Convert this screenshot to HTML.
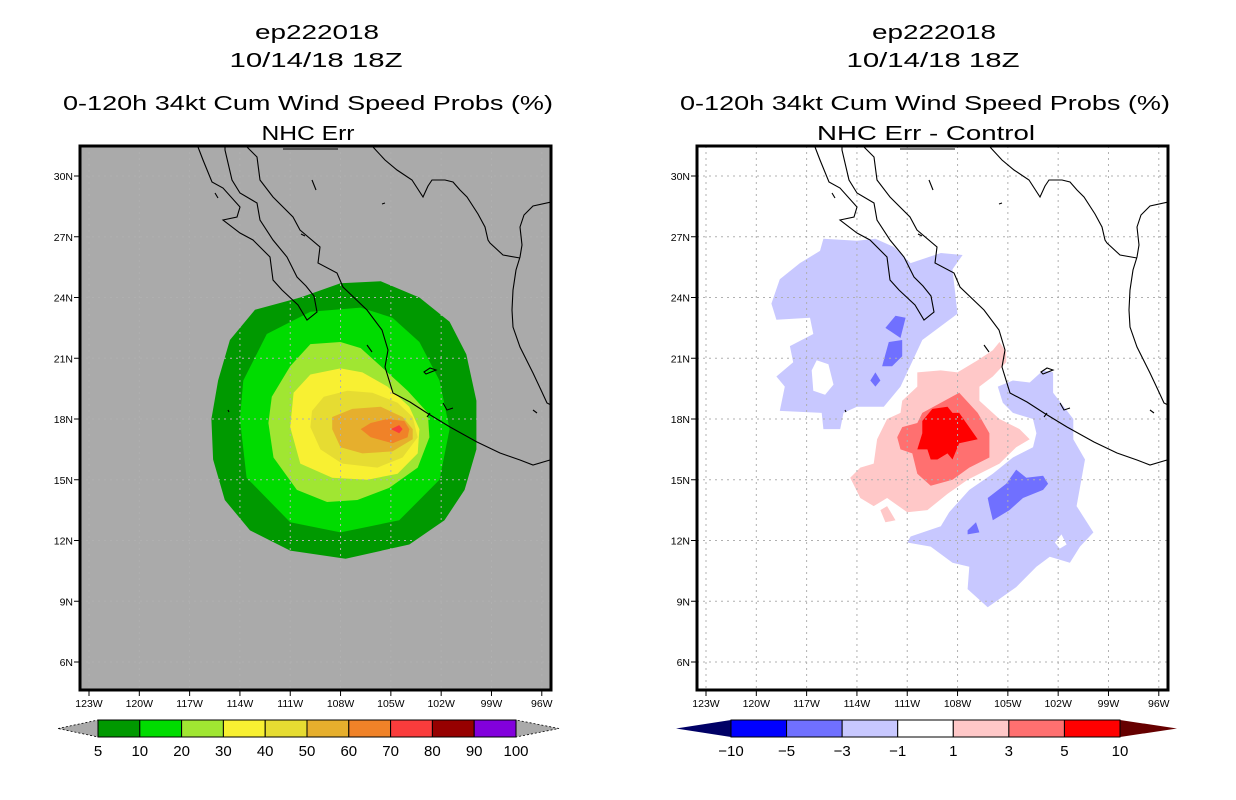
<!DOCTYPE html>
<html><head><meta charset="utf-8">
<style>
html,body{margin:0;padding:0;background:#fff;}
svg{display:block;font-family:"Liberation Sans",sans-serif;}
</style></head>
<body>
<svg id="fig" width="1236" height="800" viewBox="0 0 1236 800" xmlns="http://www.w3.org/2000/svg">
  <rect width="1236" height="800" fill="#fff"/>
  <g id="titles-left" font-size="20" text-anchor="middle" fill="#000">
    <text x="317" y="39" textLength="124" lengthAdjust="spacingAndGlyphs">ep222018</text>
    <text x="316" y="67" textLength="173" lengthAdjust="spacingAndGlyphs">10/14/18 18Z</text>
    <text x="308" y="110" textLength="490" lengthAdjust="spacingAndGlyphs">0-120h 34kt Cum Wind Speed Probs (%)</text>
    <text x="308" y="140" textLength="93" lengthAdjust="spacingAndGlyphs">NHC Err</text>
  </g>
  <g id="titles-right" font-size="20" text-anchor="middle" fill="#000">
    <text x="934" y="39" textLength="124" lengthAdjust="spacingAndGlyphs">ep222018</text>
    <text x="933" y="67" textLength="173" lengthAdjust="spacingAndGlyphs">10/14/18 18Z</text>
    <text x="925" y="110" textLength="490" lengthAdjust="spacingAndGlyphs">0-120h 34kt Cum Wind Speed Probs (%)</text>
    <text x="926" y="140" textLength="218" lengthAdjust="spacingAndGlyphs">NHC Err - Control</text>
  </g>
  <g id="panelL"></g>
  <g id="panelR"></g>
  <g id="cbL"></g>
  <g id="cbR"></g>
</svg>
<script>
// ---------- data ----------
const lonTicks = [123,120,117,114,111,108,105,102,99,96];
const latTicks = [30,27,24,21,18,15,12,9,6];
const probLevels = [5,10,20,30,40,50,60,70,80,90,100];
const probColors = ["#009900","#00dc00","#a0e632","#f8f032","#e6dc32","#e6af2d","#f08228","#fa3c3c","#960000","#8200dc"];
const diffLevels = [-10,-5,-3,-1,1,3,5,10];
const diffColors = ["#0000ff","#7070ff","#c8c8ff","#ffffff","#ffc8c8","#ff7070","#ff0000"];
const prob5 = [[110.4,24.0],[108.0,24.7],[105.6,24.8],[103.3,24.0],[101.5,22.8],[100.5,21.2],[99.9,18.9],[99.9,16.5],[100.6,14.5],[101.8,13.0],[103.9,11.8],[107.7,11.1],[111.0,11.5],[113.4,12.5],[114.9,14.0],[115.6,16.0],[115.7,18.0],[115.3,19.9],[114.6,21.9],[113.1,23.4]];
const prob10 = [[106.8,23.5],[104.9,23.0],[103.3,21.8],[102.1,19.9],[101.5,17.5],[102.1,15.0],[104.5,13.0],[108.0,12.4],[111.0,12.9],[113.6,15.1],[114.0,18.0],[113.8,19.9],[112.4,22.2],[109.8,23.3]];
const prob20 = [[108.0,21.8],[109.8,21.7],[111.0,20.6],[112.1,19.1],[112.3,17.8],[112.0,16.1],[110.6,14.5],[108.8,13.9],[107.0,14.0],[105.1,14.6],[103.4,15.6],[102.7,17.1],[102.8,18.3],[104.0,19.4],[105.6,20.6],[106.8,21.5]];
const prob30 = [[108.0,20.5],[109.8,20.2],[110.8,19.3],[111.0,17.6],[110.4,15.8],[108.5,15.1],[106.4,15.0],[104.6,15.3],[103.4,16.3],[103.3,17.5],[103.9,18.6],[105.2,19.6],[106.7,20.3]];
const prob40 = [[107.6,19.4],[109.0,19.1],[109.7,18.4],[109.8,17.6],[109.2,16.5],[107.9,15.8],[105.8,15.6],[104.3,16.1],[103.4,17.1],[103.7,18.1],[104.6,18.8],[106.1,19.3]];
const prob50 = [[108.5,18.1],[108.5,17.5],[108.0,16.6],[106.7,16.3],[104.9,16.4],[103.7,17.0],[103.7,17.5],[104.3,18.1],[105.6,18.6],[107.3,18.5]];
const prob60 = [[106.8,17.5],[106.2,17.1],[104.9,16.8],[104.0,17.1],[103.9,17.5],[104.2,17.9],[105.2,18.0],[106.2,17.8]];
const prob70 = [[105.0,17.5],[104.5,17.7],[104.3,17.5],[104.5,17.3]];
const diffNeg1NW = [[116.0,26.9],[114.0,26.8],[112.9,26.9],[111.8,26.5],[110.8,25.7],[109.0,26.2],[107.7,26.1],[108.3,25.4],[108.0,23.2],[110.1,21.9],[111.4,19.6],[112.4,18.6],[114.0,18.6],[114.8,18.3],[115.0,17.5],[116.0,17.5],[116.1,18.3],[118.6,18.4],[118.3,19.6],[118.8,20.1],[117.8,20.8],[118.0,21.6],[116.6,22.2],[116.8,23.0],[118.8,22.9],[119.1,23.7],[118.6,24.9],[117.4,25.7],[116.2,26.3]];
const diffHoleNW = [[116.4,20.9],[115.7,20.7],[115.4,19.7],[115.9,19.2],[116.6,19.4],[116.7,20.4]];
const diffNeg3NWa = [[112.3,22.5],[111.7,23.1],[111.1,23.0],[111.4,22.0]];
const diffNeg3NWb = [[112.5,20.6],[112.1,21.8],[111.3,21.9],[111.3,21.1],[111.9,20.6]];
const diffNeg3NWc = [[113.2,19.9],[112.9,20.3],[112.6,19.9],[112.9,19.6]];
const diffNeg1SE = [[105.6,19.6],[104.7,19.9],[103.7,19.8],[102.9,20.4],[102.3,20.3],[102.3,19.3],[101.1,18.0],[101.1,17.0],[100.4,16.0],[100.9,13.7],[99.9,12.4],[100.7,11.7],[101.3,10.9],[102.5,11.2],[103.3,10.7],[104.5,9.7],[106.2,8.7],[107.4,9.6],[107.3,10.7],[108.3,10.9],[109.6,11.7],[111.0,11.9],[110.8,12.2],[109.0,12.7],[108.5,13.4],[107.3,14.5],[105.9,15.3],[104.7,16.1],[103.5,16.6],[103.3,17.3],[103.5,18.0],[104.7,18.3],[105.3,18.8]];
const diffHoleSE = [[102.2,11.9],[101.8,12.3],[101.5,11.8],[101.9,11.6]];
const diffNeg3SE = [[106.2,14.1],[105.1,14.8],[104.5,15.5],[103.9,15.1],[102.9,15.2],[102.6,14.8],[102.9,14.5],[104.1,14.1],[104.9,13.5],[105.9,13.0],[106.1,13.7]];
const diffNeg3SEb = [[107.4,12.5],[106.9,12.9],[106.7,12.4],[107.4,12.3]];
const diffPos1 = [[110.4,20.3],[109.0,20.4],[108.0,20.3],[106.8,20.9],[105.9,21.4],[105.5,21.8],[105.1,21.3],[105.1,20.8],[105.9,20.1],[106.7,19.6],[106.7,18.9],[105.5,18.0],[104.3,17.5],[103.7,17.0],[104.5,16.6],[105.5,15.8],[107.4,15.0],[108.6,14.3],[109.8,13.5],[111.0,13.4],[112.2,14.1],[113.0,13.7],[113.8,14.1],[114.4,15.1],[113.8,15.6],[113.0,15.8],[112.8,17.0],[112.2,18.0],[111.4,18.3],[111.3,18.9],[110.4,19.6]];
const diffPos1b = [[112.6,13.5],[112.2,13.7],[111.7,13.0],[112.3,12.9]];
const diffPos3 = [[110.1,18.3],[107.9,19.3],[106.8,18.3],[106.1,17.3],[106.1,16.1],[107.3,15.6],[108.3,15.0],[109.6,14.7],[110.4,15.3],[110.7,16.3],[111.4,16.5],[111.6,17.1],[111.3,17.6],[110.4,17.8]];
const diffPos5 = [[109.5,18.5],[108.6,18.6],[108.3,18.3],[107.9,18.3],[106.8,17.0],[107.9,16.8],[108.3,16.0],[108.6,16.3],[109.2,16.0],[109.6,16.0],[109.8,16.5],[110.4,16.5],[110.1,17.3],[110.1,17.9]];

// ---------- helpers ----------
const NS = "http://www.w3.org/2000/svg";
function mk(tag, attrs, parent){ const e=document.createElementNS(NS,tag); for(const k in attrs) e.setAttribute(k,attrs[k]); if(parent) parent.appendChild(e); return e; }
function xScale(lon, off){ return off + 89 + (123-lon)*16.77; }
function yScale(lat){ return 176 + (30-lat)*20.25; }
function poly(parent, pts, off, fill, name){
  const d = pts.map(p=>xScale(p[0],off).toFixed(1)+","+yScale(p[1]).toFixed(1)).join(" ");
  const e = mk("polygon",{points:d, fill:fill}, parent);
  
  
  return e;
}
const coastPaths = [
 "M198,147 L203,160 L212,182 L223,188 L240,207 L237,217 L223,220 L240,233 L253,240 L270,257 L273,280 L282,290 L298,305 L307,320 L317,312 L314,296 L306,286 L297,277 L287,257 L273,240 L260,220 L257,203 L240,193 L232,180 L225,150 L225,146",
 "M247,147 L257,157 L260,180 L273,197 L293,217 L300,230 L320,247 L318,263 L337,273 L343,287 L367,310 L382,330 L388,350 L385,367 L393,393 L410,402 L427,413 L450,427 L477,442 L500,453 L520,460 L533,465 L550,460",
 "M551,202 L533,206 L524,215 L520,227 L522,245 L520,257 L516,270 L513,290 L512,310 L513,327 L520,347 L533,373 L541,390 L547,403 L551,405",
 "M373,147 L385,160 L397,170 L412,180 L423,197 L428,186 L432,180 L445,180 L453,182 L460,190 L467,197 L478,214 L485,227 L488,240 L490,243 L503,255 L520,258",
 "M283,149 L338,149",
 "M215,193 L218,198 M367,345 L372,352 M424,372 L430,368 L436,370 L426,374 Z M443,403 L447,410 L453,408 M301,234 L305,236 M312,180 L316,190 M427,417 L430,413 M533,410 L537,413 M228,410 L229,412 M382,204 L385,203"
];
function drawPanel(g, off, bg, layers){
  const clipId = "clip"+off;
  const cp = mk("clipPath",{id:clipId}, g);
  mk("rect",{x:80+off,y:146,width:471,height:544}, cp);
  const bgr = mk("rect",{x:80+off,y:146,width:471,height:544,fill:bg}, g);
  
  
  const content = mk("g",{"clip-path":"url(#"+clipId+")"}, g);
  layers(content);
  const grid = mk("g",{stroke:"#b0b0b0","stroke-width":1,"stroke-dasharray":"2,4"}, content);
  
  
  lonTicks.forEach(l=>{ const x=xScale(l,off); mk("line",{x1:x,y1:146,x2:x,y2:690}, grid); });
  latTicks.forEach(l=>{ const y=yScale(l); mk("line",{x1:80+off,y1:y,x2:551+off,y2:y}, grid); });
  const coast = mk("g",{fill:"none",stroke:"#000","stroke-width":1.1,transform:"translate("+off+",0)"}, content);
  
  
  coastPaths.forEach(d=>mk("path",{d:d}, coast));
  const fr = mk("rect",{x:80+off,y:146,width:471,height:544,fill:"none",stroke:"#000","stroke-width":3}, g);
  
  
  const ax = mk("g",{"font-size":10.5,fill:"#000"}, g);
  
  
  latTicks.forEach(l=>{
    const y=yScale(l);
    mk("line",{x1:74+off,y1:y,x2:79+off,y2:y,stroke:"#000","stroke-width":1}, ax);
    const t = mk("text",{x:73+off,y:y+4,"text-anchor":"end"}, ax);
    t.textContent = l+"N";
    
    
  });
  lonTicks.forEach(l=>{
    const x=xScale(l,off);
    mk("line",{x1:x,y1:691,x2:x,y2:696,stroke:"#000","stroke-width":1}, ax);
    const t = mk("text",{x:x,y:707,"text-anchor":"middle"}, ax);
    t.textContent = l+"W";
    
    
  });
}
drawPanel(document.getElementById("panelL"), 0, "#aaaaaa", c=>{
  const sets=[prob5,prob10,prob20,prob30,prob40,prob50,prob60,prob70];
  sets.forEach((s,i)=>poly(c, s, 0, probColors[i], "prob-contour-"+probLevels[i]));
});
drawPanel(document.getElementById("panelR"), 617, "#ffffff", c=>{
  poly(c, diffNeg1NW, 617, diffColors[2], "diff-contour-neg1-nw");
  poly(c, diffHoleNW, 617, diffColors[3], "diff-hole-nw");
  poly(c, diffNeg3NWa, 617, diffColors[1], "diff-contour-neg3-a");
  poly(c, diffNeg3NWb, 617, diffColors[1], "diff-contour-neg3-b");
  poly(c, diffNeg3NWc, 617, diffColors[1], "diff-contour-neg3-c");
  poly(c, diffNeg1SE, 617, diffColors[2], "diff-contour-neg1-se");
  poly(c, diffHoleSE, 617, diffColors[3], "diff-hole-se");
  poly(c, diffNeg3SE, 617, diffColors[1], "diff-contour-neg3-se");
  poly(c, diffNeg3SEb, 617, diffColors[1], "diff-contour-neg3-se-b");
  poly(c, diffPos1, 617, diffColors[4], "diff-contour-pos1");
  poly(c, diffPos1b, 617, diffColors[4], "diff-contour-pos1-b");
  poly(c, diffPos3, 617, diffColors[5], "diff-contour-pos3");
  poly(c, diffPos5, 617, diffColors[6], "diff-contour-pos5");
});
function colorbar(g, x0, x1, levels, colors, leftTri, rightTri, triL, triR){
  const y0=720, h=17, n=colors.length, w=(x1-x0)/n;
  const lt = mk("polygon",{points:`${triL},${y0+h/2} ${x0},${y0} ${x0},${y0+h}`, fill:leftTri, stroke:leftTri==="#aaaaaa"?"#000":"none","stroke-dasharray":"2,2","stroke-width":0.8}, g);
  
  
  const rt = mk("polygon",{points:`${triR},${y0+h/2} ${x1},${y0} ${x1},${y0+h}`, fill:rightTri, stroke:rightTri==="#aaaaaa"?"#000":"none","stroke-dasharray":"2,2","stroke-width":0.8}, g);
  
  
  colors.forEach((c,i)=>{
    const r = mk("rect",{x:x0+i*w,y:y0,width:w,height:h,fill:c,stroke:"#000","stroke-width":1}, g);
    
    
  });
  levels.forEach((l,i)=>{
    const t = mk("text",{x:x0+i*w,y:756,"text-anchor":"middle","font-size":15,fill:"#000"}, g);
    t.textContent = String(l).replace("-","\u2212");
    
    
  });
}
colorbar(document.getElementById("cbL"), 98, 516, probLevels, probColors, "#aaaaaa", "#aaaaaa", 58, 559);
colorbar(document.getElementById("cbR"), 731, 1120, diffLevels, diffColors, "#000066", "#660000", 676, 1177);
</script>
</body></html>
